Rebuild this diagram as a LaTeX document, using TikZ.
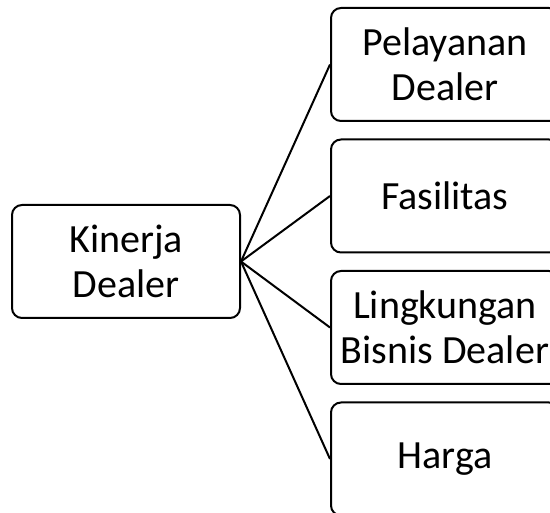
\documentclass[tikz,border=0pt]{standalone}
\usepackage{fontspec}
\setmainfont{Carlito}
\begin{document}
\begin{tikzpicture}[x=1pt,y=1pt,
  box/.style={draw=black,line width=2pt,rounded corners=10pt,minimum width=228pt,minimum height=113pt,align=center,inner sep=0pt,font=\fontsize{40}{45}\selectfont},
  conn/.style={draw=black,line width=2pt}]
\useasboundingbox (0,0) rectangle (550,-513);
\clip (0,0) rectangle (550,-513);
\node[box] (k) at (126,-261.5) {Kinerja\\Dealer};
\node[box] (p) at (445,-64.5) {Pelayanan\\Dealer};
\node[box] (f) at (445,-196) {Fasilitas};
\node[box] (l) at (445,-327.5) {Lingkungan\\Bisnis Dealer};
\node[box] (h) at (445,-459) {Harga};
\foreach \t in {p,f,l,h} \draw[conn] (k.east) -- (\t.west);
\end{tikzpicture}
\end{document}
